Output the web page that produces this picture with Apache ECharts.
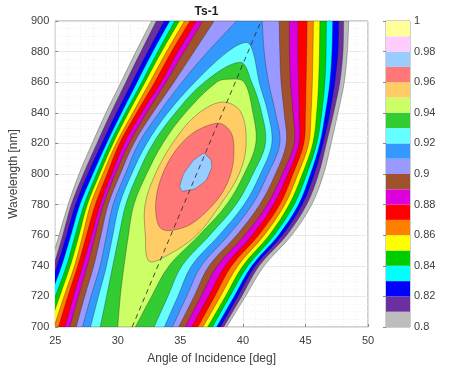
<!DOCTYPE html>
<html><head><meta charset="utf-8">
<script src="https://cdn.jsdelivr.net/npm/echarts@6/dist/echarts.min.js"></script>
<style>html,body{margin:0;padding:0;background:#fff}#c{width:449px;height:371px}</style>
</head><body><div id="c"></div>
<script>
// ---- data ----
const wavelengths = [700, 720, 740, 760, 780, 800, 820, 840, 860, 880, 900];
const levels = [0.80,0.81,0.82,0.83,0.84,0.85,0.86,0.87,0.88,0.89,0.90,0.91,0.92,0.93,0.94,0.95,0.96,0.97,0.98,0.99];
const bandColors = ['#bdbdbd','#6b2fa0','#0000ff','#00ffff','#00cc00','#ffff00','#ff8000','#ff0000','#dd00dd','#a0522d',
                    '#9999ff','#3399ff','#66ffff','#33cc33','#ccff66','#ffcc66','#ff7777','#99ccff','#ffccff','#ffff99'];
// left boundary (angle, deg) of the region >= level, per wavelength
const leftEdges = [
 [22.4,23.5,24.55,25.3,26.03,26.9,27.95,29.05,30.26,31.45,32.7],
 [22.9,23.9,24.85,25.6,26.28,27.25,28.33,29.45,30.64,31.85,33.08],
 [23.3,24.25,25.15,25.9,26.62,27.6,28.72,29.9,31.15,32.4,33.72],
 [23.7,24.6,25.51,26.25,26.97,28.0,29.1,30.3,31.54,32.8,34.15],
 [24.1,25.0,25.9,26.6,27.31,28.3,29.36,30.6,31.92,33.2,34.56],
 [24.5,25.35,26.2,26.9,27.56,28.55,29.62,30.85,32.18,33.5,34.92],
 [24.9,25.7,26.54,27.2,27.82,28.8,29.87,31.2,32.56,33.9,35.33],
 [25.26,26.0,26.8,27.5,28.2,29.15,30.13,31.5,32.95,34.3,35.77],
 [25.77,26.45,27.18,27.9,28.59,29.5,30.51,31.9,33.46,34.8,36.28],
 [26.15,26.85,27.56,28.2,28.85,29.8,30.9,32.3,33.85,35.3,36.8],
 [26.67,27.35,28.08,28.65,29.23,30.2,31.28,32.8,34.49,36.1,37.7],
 [27.18,27.85,28.59,29.1,29.62,30.6,31.67,33.3,35.13,37.2,39.5],
 [27.82,28.45,29.1,29.6,30.13,31.1,32.31,34.0,36.15,38.8,null],
 [28.59,29.1,29.6,30.1,30.64,31.6,32.82,34.6,36.92,null,null],
 [30.0,30.2,30.5,30.85,31.28,32.3,33.59,35.4,37.9,null,null]
];
// right boundary (angle, deg) of the region >= level, per wavelength
const rightEdges = [
 [38.7,40.2,41.7,43.9,45.5,46.45,47.05,47.6,48.1,48.35,48.46],
 [38.46,39.9,41.3,43.5,45.1,46.05,46.67,47.25,47.75,48.0,48.05],
 [38.2,39.6,41.0,43.15,44.75,45.7,46.41,46.95,47.35,47.6,47.66],
 [37.9,39.3,40.72,42.85,44.45,45.4,46.15,46.6,46.95,47.12,47.18],
 [37.56,38.95,40.4,42.5,44.1,45.1,45.9,46.3,46.55,46.65,46.67],
 [37.18,38.6,40.0,42.1,43.7,44.75,45.59,45.9,46.05,46.12,46.15],
 [36.8,38.2,39.6,41.7,43.35,44.4,45.26,45.45,45.55,45.6,45.64],
 [36.4,37.75,39.1,41.25,42.95,44.0,44.87,45.0,45.05,45.1,45.13],
 [35.9,37.25,38.6,40.75,42.45,43.6,44.49,44.5,44.45,44.4,44.4],
 [35.38,36.65,37.95,40.15,41.95,43.15,44.1,44.0,43.8,43.72,43.72],
 [34.87,36.1,37.3,39.5,41.35,42.6,43.46,43.3,43.05,42.95,42.9],
 [34.36,35.5,36.67,38.85,40.75,42.0,42.95,42.6,42.05,41.7,41.54],
 [33.72,34.8,35.9,38.1,40.1,41.4,42.31,42.0,41.3,40.8,null],
 [32.9,34.0,35.13,37.35,39.45,40.8,41.8,41.5,40.7,null,null],
 [31.4,32.7,34.1,36.5,38.7,40.1,41.03,40.8,40.1,null,null]
];
// tops of the closed arches of levels 0.92, 0.93, 0.94: [angle, wavelength]
const archTops = [[40.3, 886], [39.8, 873], [39.0, 862]];
// closed contours: [angle, wavelength]
const contour095 = [[32.5,743],[32.2,760],[32.18,780],[33.0,800],[34.36,820],[36.2,838],[38.3,847],[39.8,841],[40.26,820],[39.7,800],[38.2,780],[36.3,760],[34.0,747]];
const contour096 = [[38.34,832.7],[39.1,826.2],[39.28,815.3],[39.1,802.3],[38.46,789.2],[37.44,778.4],[35.9,767.5],[34.36,763.2],[33.46,764.3],[33.08,771.9],[33.08,784.9],[33.59,800.1],[34.62,815.3],[35.9,826.2],[37.44,832.3]];
const contour097 = [[36.87,813.6],[37.44,809.2],[37.52,804.5],[37.05,795.8],[36.16,790.3],[35.13,788.8],[34.95,791.9],[35.26,800.1],[36.03,808.8]];
const ridgeLine = [[31.15,700],[41.45,900]];
const xTickInterval = 5, yTickInterval = 20, cbTickInterval = 0.02;

// ---- build polygons (corner points on the plot edges are doubled so the smoothing keeps them sharp) ----
const W0 = wavelengths[0], W1 = wavelengths[wavelengths.length-1];
const polygons = [];
for (let k = 0; k < leftEdges.length; k++) {
  const pts = [];
  const add = (a, w) => { pts.push([a, w]); if (w === W0 || w === W1) pts.push([a, w]); };
  wavelengths.forEach((w,i)=>{ if (leftEdges[k][i] != null) add(leftEdges[k][i], w); });
  if (k >= 12) pts.push(archTops[k-12]);
  for (let i = wavelengths.length-1; i >= 0; i--) if (rightEdges[k][i] != null) add(rightEdges[k][i], wavelengths[i]);
  polygons.push({level:k, pts, smooth:0.35});
}
polygons.push({level:15, pts:contour095, smooth:0.35});
polygons.push({level:16, pts:contour096, smooth:0.35});
polygons.push({level:17, pts:contour097, smooth:0.12});

const txt = '#404040', font = 'Liberation Sans, Arial, sans-serif';
const chart = echarts.init(document.getElementById('c'), null, {renderer:'canvas'});
chart.setOption({
  animation:false,
  textStyle:{fontFamily:font},
  graphic:[{type:'text', x:206.5, y:12, z:10,
            style:{text:'Ts-1', fill:'#222', font:'bold 12px Liberation Sans, Arial, sans-serif', textAlign:'center', textVerticalAlign:'middle'}}],
  grid:[
    {left:45, top:21, width:323, height:306, show:true, borderColor:'#a0a0a0', borderWidth:1, backgroundColor:'#fff'},
    {left:386, top:21, width:24, height:306, show:true, borderColor:'#a0a0a0', borderWidth:1}
  ],
  xAxis:[
    {type:'value', gridIndex:0, min:25, max:50, interval:xTickInterval,
     name:'Angle of Incidence [deg]', nameLocation:'middle', nameGap:26,
     nameTextStyle:{fontSize:12, color:txt, fontFamily:font},
     axisLine:{show:false}, axisTick:{inside:true, length:3, lineStyle:{color:'#888'}},
     axisLabel:{fontSize:11, color:txt, margin:8, fontFamily:font},
     splitLine:{show:true, lineStyle:{color:'#e4e4e4', width:0.8}},
     minorTick:{show:false, splitNumber:5},
     minorSplitLine:{show:true, lineStyle:{color:'#ececec', type:[1,2], width:0.8}}},
    {type:'value', gridIndex:1, min:0, max:1, show:false}
  ],
  yAxis:[
    {type:'value', gridIndex:0, min:700, max:900, interval:yTickInterval,
     name:'Wavelength [nm]', nameLocation:'middle', nameGap:34,
     nameTextStyle:{fontSize:12, color:txt, fontFamily:font},
     axisLine:{show:false}, axisTick:{inside:true, length:3, lineStyle:{color:'#888'}},
     axisLabel:{fontSize:11, color:txt, margin:6, fontFamily:font},
     splitLine:{show:true, lineStyle:{color:'#e4e4e4', width:0.8}},
     minorTick:{show:false, splitNumber:4},
     minorSplitLine:{show:true, lineStyle:{color:'#ececec', type:[1,2], width:0.8}}},
    {type:'value', gridIndex:1, min:0.8, max:1, interval:cbTickInterval, position:'right',
     axisLine:{show:false}, axisTick:{inside:true, length:3, lineStyle:{color:'#888'}},
     splitLine:{show:false},
     axisLabel:{fontSize:11, color:txt, margin:4, fontFamily:font, formatter:v=>String(+v.toFixed(2))}}
  ],
  series:[
    {type:'custom', xAxisIndex:0, yAxisIndex:0, clip:true, z:2,
     data: polygons.map((p,i)=>[p.pts[0][0], p.pts[0][1], i]),
     renderItem:(params, api)=>{
       const p = polygons[params.dataIndex];
       return {type:'polygon', shape:{points:p.pts.map(q=>api.coord(q)), smooth:p.smooth},
               style:{fill:bandColors[p.level], stroke:'rgba(30,30,30,0.55)', lineWidth:0.6}};
     }},
    {type:'line', xAxisIndex:0, yAxisIndex:0, data:ridgeLine, symbol:'none', z:5,
     lineStyle:{color:'#333', width:0.9, type:[5,4]}},
    {type:'custom', xAxisIndex:1, yAxisIndex:1, z:2,
     data: levels.map((v,k)=>[0, v, k]),
     renderItem:(params, api)=>{
       const v = api.value(1), k = api.value(2);
       const a = api.coord([0, v]), b = api.coord([1, v + 0.01]);
       return {type:'rect', shape:{x:a[0], y:b[1], width:b[0]-a[0], height:a[1]-b[1]},
               style:{fill:bandColors[k]}};
     }}
  ]
});
</script></body></html>
